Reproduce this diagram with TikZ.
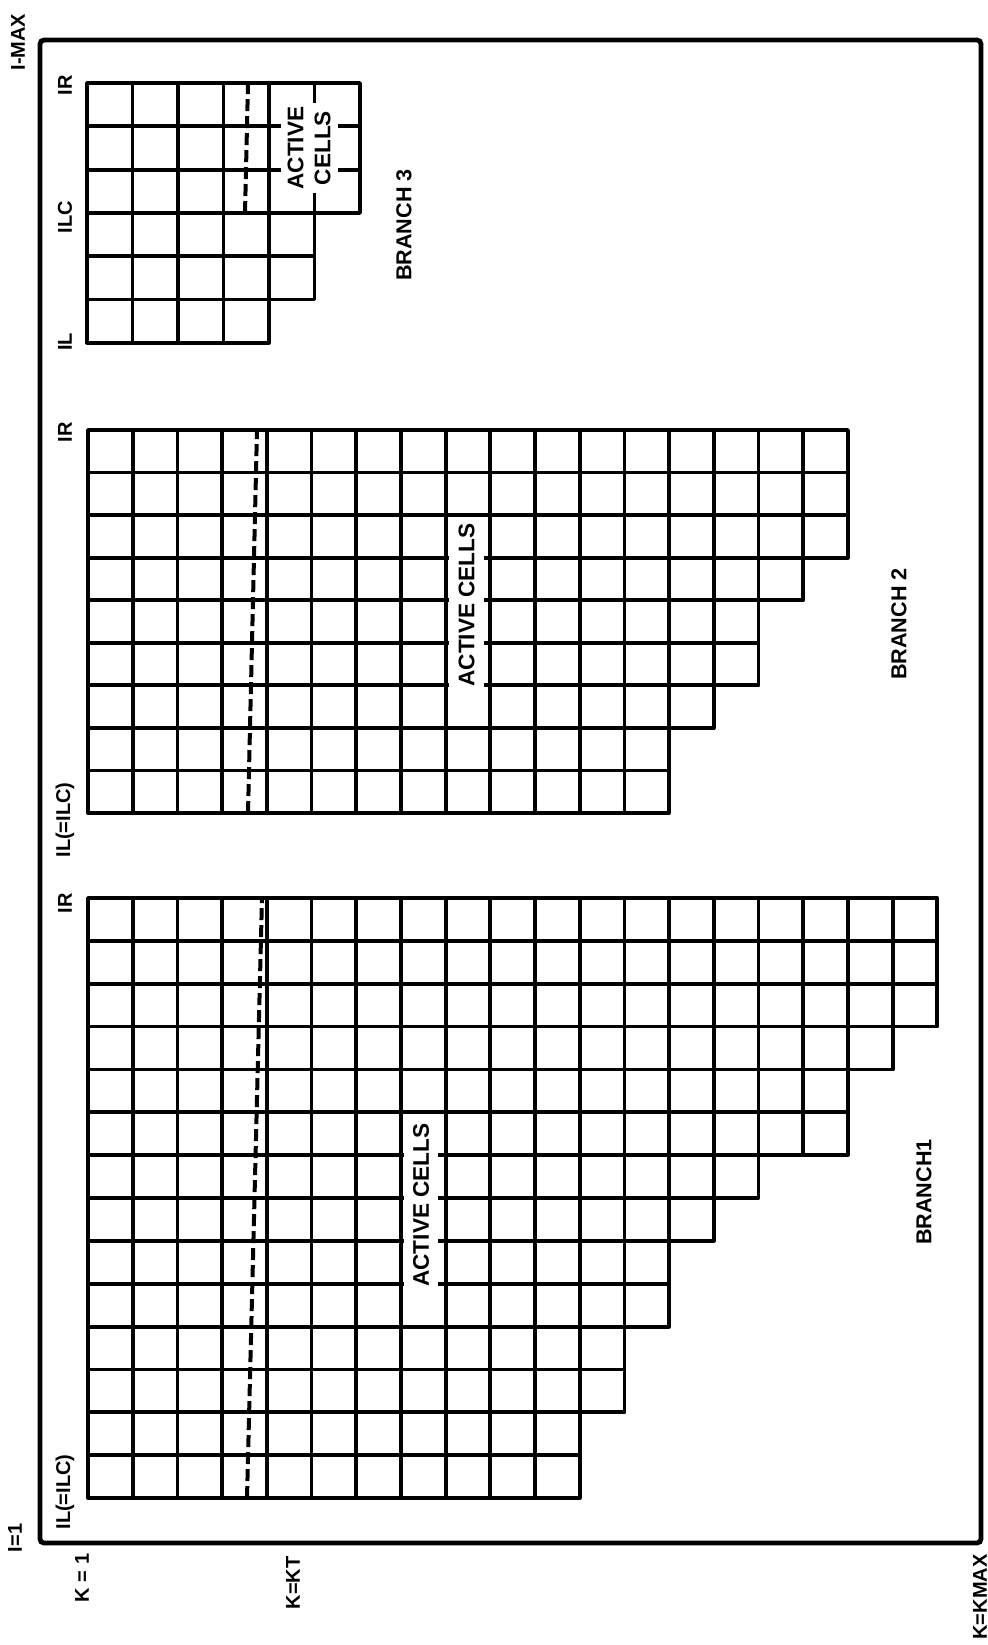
\documentclass[tikz,border=0pt]{standalone}
\usepackage{fontspec}
\setmainfont{Liberation Sans}
\usetikzlibrary{positioning}

\tikzset{
	cellline/.style={line width=1.9pt, line cap=round, line join=round},
	frameline/.style={line width=2.4pt, rounded corners=2pt},
	ktline/.style={line width=2pt, dash pattern=on 6pt off 2.5pt},
	lbl/.style={rotate=90, font=\fontsize{10}{12}\selectfont\bfseries, inner sep=1pt},
	branchlbl/.style={rotate=90, font=\fontsize{10.8}{13}\selectfont\bfseries, inner sep=1pt},
	activebox/.style={rotate=90, fill=white, inner sep=0pt, align=center,
		font=\fontsize{11.3}{13.5}\selectfont\bfseries},
}

\begin{document}
\begin{tikzpicture}[x=0.5pt, y=-0.5pt]
	\useasboundingbox (0,0) rectangle (988,1645);
	
	% Frame
	\draw[frameline] (40,40) rectangle (981,1543);
	
	% Branch 1 (rows from IR down to IL, number of cells per row)
	\foreach \r/\n in {1/19,2/19,3/19,4/18,5/17,6/17,7/15,8/14,9/13,10/13,11/12,12/12,13/11,14/11} {
		\foreach \c in {1,...,\n}
			\draw[cellline] ({88+(\c-1)*44.7},{898+(\r-1)*42.86}) rectangle ++(44.7,42.86);
	}
	\draw[ktline] (247,1498) -- (262,898);
	\node[activebox, minimum width=88pt, minimum height=17pt] (act1) at (421,1205) {ACTIVE CELLS};
	
	% Branch 2
	\foreach \r/\n in {1/17,2/17,3/17,4/16,5/15,6/15,7/14,8/13,9/13} {
		\foreach \c in {1,...,\n}
			\draw[cellline] ({88+(\c-1)*44.7},{430+(\r-1)*42.56}) rectangle ++(44.7,42.56);
	}
	\draw[ktline] (248,813) -- (257,430);
	\node[activebox, minimum width=80pt, minimum height=17.5pt] (act2) at (466.5,605) {ACTIVE CELLS};
	
	% Branch 3
	\foreach \r/\n in {1/6,2/6,3/6,4/5,5/5,6/4} {
		\foreach \c in {1,...,\n}
			\draw[cellline] ({87+(\c-1)*45.5},{83+(\r-1)*43.3}) rectangle ++(45.5,43.3);
	}
	\draw[ktline] (245,213) -- (248,83);
	\node[activebox, minimum width=45pt, minimum height=28.5pt] (act3) at (309,148) {ACTIVE\\CELLS};
	
	% Index labels
	\node[lbl] (i1) at (15,1538) {I=1};
	\node[lbl] (imax) at (18,42) {I-MAX};
	\node[lbl] (k1) at (82,1578) {K = 1};
	\node[lbl] (kt) at (293,1583) {K=KT};
	\node[lbl] (kmax) at (980,1597) {K=KMAX};
	
	\node[lbl] (il1) at (65,1492) {IL(=ILC)};
	\node[lbl] (ir1) at (65,903) {IR};
	\node[lbl] (il2) at (65,820) {IL(=ILC)};
	\node[lbl] (ir2) at (65,432) {IR};
	\node[lbl] (il3) at (65,342) {IL};
	\node[lbl] (ilc3) at (65,217) {ILC};
	\node[lbl] (ir3) at (65,85) {IR};
	
	% Branch names
	\node[branchlbl] (br1) at (924,1192) {BRANCH1};
	\node[branchlbl] (br2) at (899,624) {BRANCH 2};
	\node[branchlbl] (br3) at (404,225) {BRANCH 3};
	
\end{tikzpicture}
\end{document}
